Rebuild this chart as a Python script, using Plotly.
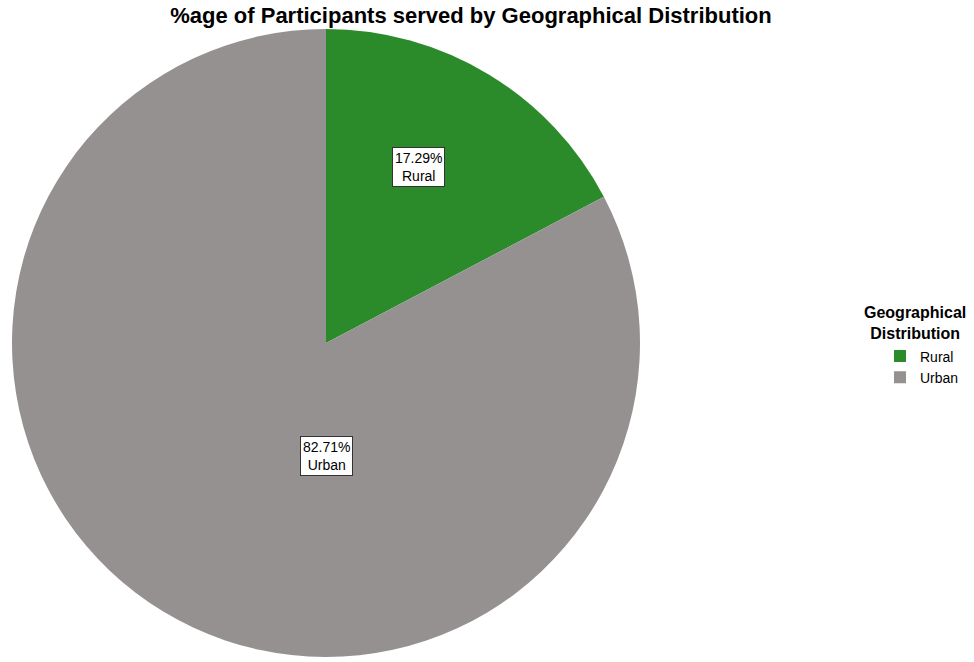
import plotly.graph_objects as go

categories = ["Rural", "Urban"]
values = [17.29, 82.71]
colors = ["#2b8b2b", "#959190"]
legend_title = "Geographical<br>Distribution"

W, H = 974, 662
cx, cy, r = 326, 343, 314

fig = go.Figure(go.Pie(
    labels=categories, values=values, sort=False, direction="clockwise", rotation=0,
    marker=dict(colors=colors, line=dict(width=0)),
    textinfo="none", hoverinfo="label+percent",
    domain=dict(x=[(cx - r) / W, (cx + r) / W], y=[1 - (cy + r) / H, 1 - (cy - r) / H]),
))

label_pos = [(418, 167), (326, 456)]
for cat, v, (px, py) in zip(categories, values, label_pos):
    fig.add_annotation(
        x=px / W, y=1 - py / H, xref="paper", yref="paper",
        xanchor="center", yanchor="middle",
        text=f"{v:.2f}%<br>{cat}", showarrow=False,
        font=dict(family="Arial, Liberation Sans", size=14, color="#000"),
        bgcolor="white", bordercolor="#333", borderwidth=1, borderpad=2,
    )

# legend title as a centred two-line annotation
fig.add_annotation(
    x=915 / W, y=1 - 323 / H, xref="paper", yref="paper",
    xanchor="center", yanchor="middle", align="center",
    text=f"<b>{legend_title}</b>", showarrow=False,
    font=dict(family="Arial, Liberation Sans", size=16, color="#000"),
)

fig.update_layout(
    width=W, height=H,
    margin=dict(l=0, r=0, t=0, b=0),
    paper_bgcolor="white", plot_bgcolor="white",
    title=dict(text="<b>%age of Participants served by Geographical Distribution</b>",
               x=471 / W, xanchor="center", y=1 - 15 / H, yanchor="middle",
               font=dict(family="Arial, Liberation Sans", size=22, color="#000")),
    legend=dict(
        x=880 / W, xanchor="left", y=1 - 367 / H, yanchor="middle",
        font=dict(family="Arial, Liberation Sans", size=14, color="#000"),
        itemwidth=30, tracegroupgap=0, bgcolor="rgba(0,0,0,0)",
    ),
)

fig.write_html("out.html", config={"displayModeBar": False},
               post_script="document.body.style.margin='0';")
